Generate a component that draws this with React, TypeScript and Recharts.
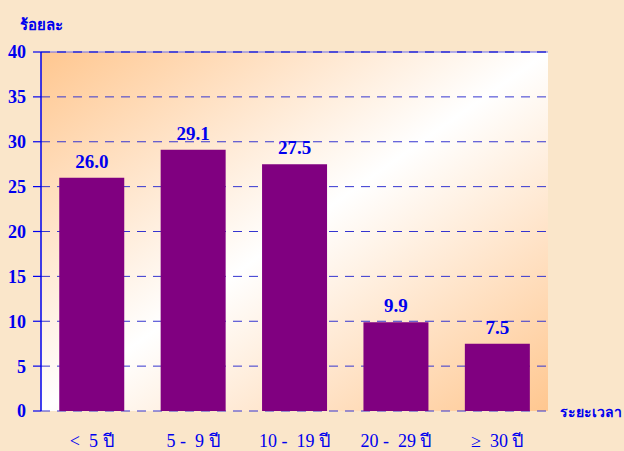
import { BarChart, Bar, XAxis, YAxis, CartesianGrid, LabelList, ReferenceLine } from 'recharts';

// ช่วงระยะเวลา (ปี) และร้อยละ
const categories = ['<\u00A0 5 ปี', '5 -\u00A0 9 ปี', '10 -\u00A0 19 ปี', '20 -\u00A0 29 ปี', '≥\u00A0 30 ปี'];
const percents = [26.0, 29.1, 27.5, 9.9, 7.5];
const yTicks = [0, 5, 10, 15, 20, 25, 30, 35, 40];
const edgeTicks = [0, 1, 2, 3, 4, 5];

const data = categories.map((name, i) => ({ name, value: percents[i] }));

const BLUE = '#0000EE';
const FONT = '"Liberation Serif", "DejaVu Serif", serif';

export default function App() {
  return (
    <div
      style={{
        position: 'fixed',
        left: 0,
        top: 0,
        width: 624,
        height: 451,
        background: '#FAE6CA',
        fontFamily: FONT,
        overflow: 'hidden',
      }}
    >
      <div
        style={{
          position: 'absolute',
          left: 20,
          top: 13,
          color: BLUE,
          fontWeight: 'bold',
          fontSize: 15,
        }}
      >
        ร้อยละ
      </div>
      <div
        style={{
          position: 'absolute',
          left: 560,
          top: 401,
          color: BLUE,
          fontWeight: 'bold',
          fontSize: 14,
          whiteSpace: 'nowrap',
        }}
      >
        ระยะเวลา
      </div>
      <BarChart
        width={624}
        height={451}
        data={data}
        margin={{ top: 52, right: 76, bottom: 0, left: 0 }}
        barCategoryGap="18%"
      >
        <defs>
          <linearGradient id="plotBg" x1="0" y1="0" x2="1" y2="1">
            <stop offset="0%" stopColor="#FFC790" />
            <stop offset="50%" stopColor="#FFFFFF" />
            <stop offset="100%" stopColor="#FFC790" />
          </linearGradient>
        </defs>
        <CartesianGrid
          vertical={false}
          fill="url(#plotBg)"
          fillOpacity={1}
          stroke="#3535D0"
          strokeDasharray="9 7"
        />
        <ReferenceLine y={40} stroke="#6A6AF0" strokeWidth={1.2} />
        <ReferenceLine y={40} stroke="#2020D0" strokeWidth={1.2} strokeDasharray="9 7" />
        <XAxis
          xAxisId="edges"
          type="number"
          domain={[0, 5]}
          allowDataOverflow
          ticks={edgeTicks}
          tick={false}
          height={0}
          tickSize={7}
          axisLine={{ stroke: BLUE, strokeWidth: 1.5 }}
          tickLine={{ stroke: BLUE, strokeWidth: 1.2 }}
        />
        <XAxis
          dataKey="name"
          height={40}
          axisLine={false}
          tickLine={false}
          interval={0}
          tickMargin={17}
          tick={{ fill: BLUE, fontSize: 18, fontFamily: FONT }}
        />
        <YAxis
          domain={[0, 40]}
          ticks={yTicks}
          interval={0}
          width={41}
          tickSize={8}
          tickMargin={7}
          axisLine={{ stroke: BLUE, strokeWidth: 1.5 }}
          tickLine={{ stroke: BLUE, strokeWidth: 1.2 }}
          tick={{ fill: BLUE, fontSize: 18, fontWeight: 'bold', fontFamily: FONT }}
        />
        <YAxis
          yAxisId="right"
          orientation="right"
          domain={[0, 40]}
          width={0}
          tick={false}
          tickLine={false}
          axisLine={{ stroke: BLUE, strokeWidth: 1.5 }}
        />
        <Bar dataKey="value" fill="#800080" isAnimationActive={false}>
          <LabelList
            dataKey="value"
            position="top"
            offset={10}
            formatter={(v: any) => Number(v).toFixed(1)}
            style={{ fill: BLUE, fontSize: 19, fontWeight: 'bold', fontFamily: FONT }}
          />
        </Bar>
      </BarChart>
    </div>
  );
}
